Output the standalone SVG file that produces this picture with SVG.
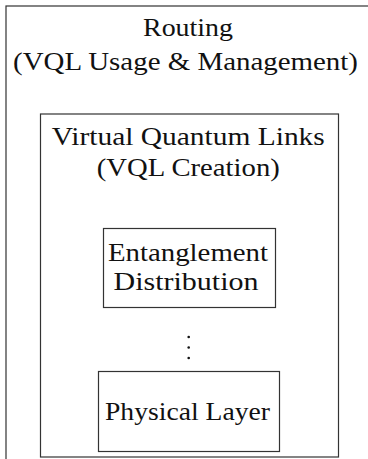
<svg xmlns="http://www.w3.org/2000/svg" width="368" height="459" viewBox="0 0 368 459">
  <style>
    .box { fill: none; stroke: #333; stroke-width: 1.2; }
    .lbl { font-family: "Liberation Serif", "Times New Roman", serif; font-size: 26px; fill: #111; text-anchor: middle; }
    .dot { fill: #111; }
  </style>
  <rect x="0" y="0" width="368" height="459" fill="#fff"/>
  <g id="routing">
    <rect class="box" x="6" y="6" width="368" height="470"/>
    <text class="lbl" x="188" y="36" textLength="90" lengthAdjust="spacingAndGlyphs">Routing</text>
    <text class="lbl" x="185.5" y="69.5" textLength="345" lengthAdjust="spacingAndGlyphs">(VQL Usage &amp; Management)</text>
  </g>
  <g id="vql">
    <rect class="box" x="40.5" y="114" width="298" height="343"/>
    <text class="lbl" x="188.3" y="144.5" textLength="273" lengthAdjust="spacingAndGlyphs">Virtual Quantum Links</text>
    <text class="lbl" x="188.3" y="175.5" textLength="183" lengthAdjust="spacingAndGlyphs">(VQL Creation)</text>
  </g>
  <g id="entanglement">
    <rect class="box" x="103.5" y="228.5" width="172" height="79"/>
    <text class="lbl" x="188" y="261" textLength="160" lengthAdjust="spacingAndGlyphs">Entanglement</text>
    <text class="lbl" x="186" y="290" textLength="145" lengthAdjust="spacingAndGlyphs">Distribution</text>
  </g>
  <g id="vdots">
    <circle class="dot" cx="188.7" cy="337" r="1.3"/>
    <circle class="dot" cx="188.7" cy="347.5" r="1.3"/>
    <circle class="dot" cx="188.7" cy="358" r="1.3"/>
  </g>
  <g id="physical">
    <rect class="box" x="98.5" y="371.5" width="181" height="80"/>
    <text class="lbl" x="187.5" y="419.5" textLength="165" lengthAdjust="spacingAndGlyphs">Physical Layer</text>
  </g>
  <g id="connectors"/>
</svg>
